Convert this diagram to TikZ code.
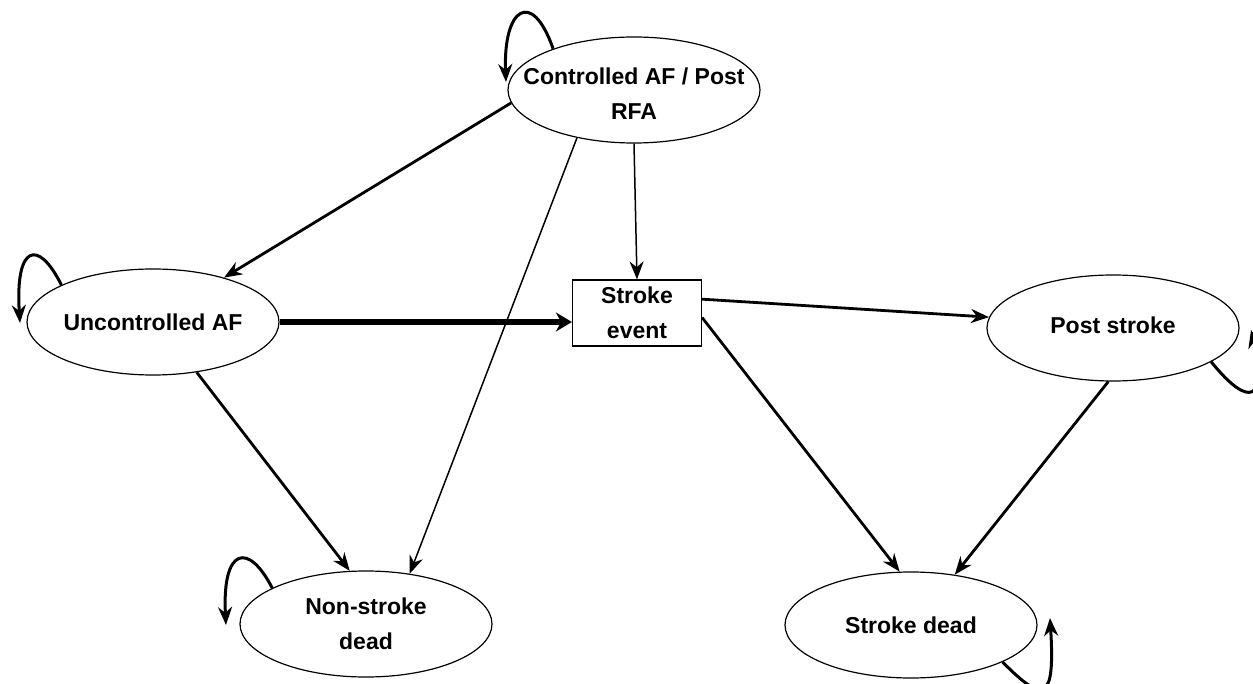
\documentclass[tikz,border=0pt]{standalone}
\usepackage{fontspec}
\setmainfont{Liberation Sans}
\usetikzlibrary{arrows.meta,shapes.geometric}

\begin{document}
\begin{tikzpicture}[x=1pt,y=-1pt,>={Stealth[length=18pt,width=14pt]},
                    font=\bfseries\fontsize{23}{35}\selectfont]
  \tikzstyle{ell}=[draw,ellipse,line width=1.2pt,minimum width=252pt,
                   minimum height=106pt,inner sep=0pt]
  \tikzstyle{lbl}=[align=center]
  \tikzstyle{lightarr}=[->,line width=1.5pt]
  \tikzstyle{medarr}=[->,line width=2.8pt]
  \tikzstyle{heavyarr}=[-{Stealth[length=16pt,width=19pt]},line width=6.5pt]
  \tikzstyle{selfloop}=[->,line width=3pt]

  \useasboundingbox (0,0) rectangle (1253,684);
  \clip (0,0) rectangle (1253,684);

  \node[ell,label={[lbl,yshift=-4pt]center:Controlled AF / Post\\RFA}] (ctrl) at (634,90) {};
  \node[ell,label={[lbl]center:Uncontrolled AF}]          (unc)  at (153,322) {};
  \node[draw,line width=1.2pt,minimum width=129pt,minimum height=66pt,
        inner sep=0pt,align=center]                        (se)   at (637,313) {Stroke\\event};
  \node[ell,label={[lbl,yshift=3pt]center:Post stroke}]   (ps)   at (1113,328) {};
  \node[ell,label={[lbl]center:Non-stroke\\dead}]         (nsd)  at (366,624) {};
  \node[ell,label={[lbl]center:Stroke dead}]              (sd)   at (911,625) {};

  % transitions
  \draw[medarr]   (ctrl.186)  -- (unc.32);
  \draw[lightarr] (ctrl.220)  -- (nsd.49);
  \draw[lightarr] (ctrl.south) -- (se.north);
  \draw[heavyarr] (unc.east)  -- (unc.east -| se.west);
  \draw[medarr]   (unc.311)   -- (nsd.107);
  \draw[medarr]   (se.12)     -- (ps.175);
  \draw[medarr]   (se.-4)     -- (sd.102);
  \draw[medarr]   (ps.265)    -- (sd.49);

  % stay in same state
  \coordinate (ctrlend) at (506,82);
  \coordinate (uncend)  at (20,323);
  \coordinate (nsdend)  at (226,625);
  \coordinate (psend)   at (1251,330);
  \coordinate (sdend)   at (1050,618);
  \draw[selfloop] (ctrl.153) .. controls (532,-12) and (503,8) .. (ctrlend);
  \draw[selfloop] (unc.158)  .. controls (38,238) and (15,245) .. (uncend);
  \draw[selfloop] (nsd.159)  .. controls (248,541) and (222,548) .. (nsdend);
  \draw[selfloop] (ps.341)   .. controls (1250,410) and (1268,400) .. (psend);
  \draw[selfloop] (sd.338)   .. controls (1045,705) and (1055,700) .. (sdend);
\end{tikzpicture}
\end{document}
